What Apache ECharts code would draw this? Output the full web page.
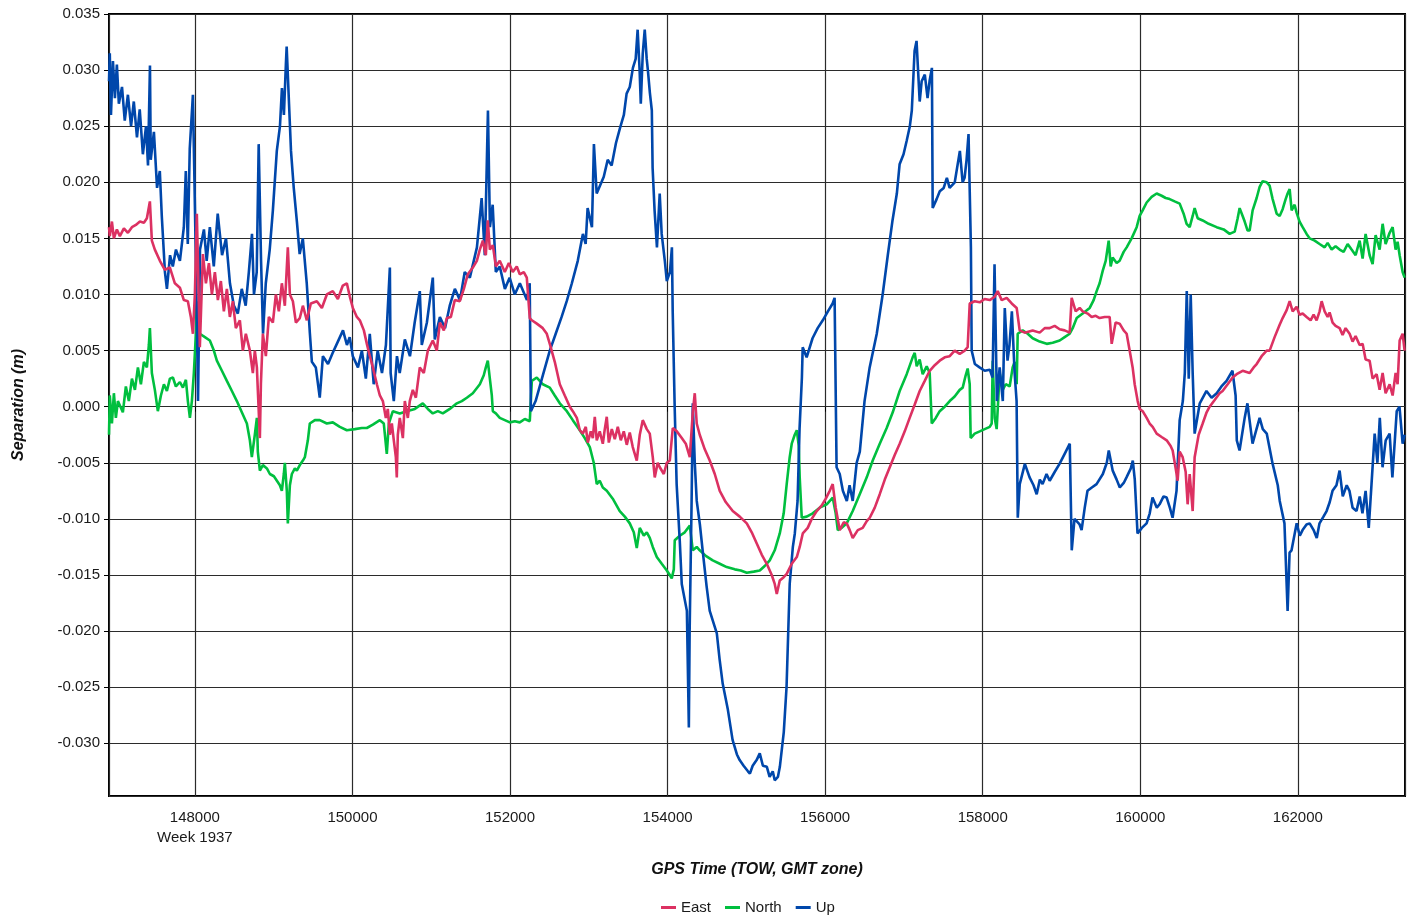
<!DOCTYPE html>
<html>
<head>
<meta charset="utf-8">
<title>Separation</title>
<script src="https://cdn.jsdelivr.net/npm/echarts@6/dist/echarts.min.js"></script>
<style>
  html, body { margin: 0; padding: 0; background: #fff; }
  #chart { width: 1412px; height: 919px; }
</style>
</head>
<body>
<div id="chart"></div>
<script>
// series names (legend order)
var seriesNames = ['East', 'North', 'Up'];

// Up component, [GPS time (s), separation (m)]
var upData = [
[146910,0.0290],[146920,0.0315],[146935,0.0260],[146960,0.0308],[146985,0.0275],[147010,0.0305],[147035,0.0270],[147075,0.0285],[147110,0.0255],[147150,0.0278],[147190,0.0250],[147225,0.0272],[147265,0.0240],[147300,0.0265],[147340,0.0225],[147380,0.0250],[147405,0.0215],[147430,0.0304],[147440,0.0220],[147480,0.0245],[147520,0.0195],[147555,0.0210],[147580,0.0170],[147620,0.0120],[147645,0.0105],[147685,0.0135],[147720,0.0125],[147760,0.0140],[147810,0.0130],[147860,0.0160],[147885,0.0210],[147910,0.0145],[147935,0.0230],[147975,0.0278],[148000,0.0180],[148025,0.0080],[148040,0.0005],[148065,0.0140],[148115,0.0158],[148150,0.0130],[148190,0.0160],[148240,0.0125],[148290,0.0172],[148345,0.0135],[148395,0.0150],[148445,0.0110],[148495,0.0090],[148545,0.0083],[148595,0.0105],[148645,0.0090],[148685,0.0120],[148725,0.0154],[148750,0.0100],[148785,0.0120],[148810,0.0234],[148840,0.0130],[148865,0.0065],[148900,0.0110],[148950,0.0140],[148990,0.0175],[149040,0.0228],[149080,0.0250],[149105,0.0284],[149130,0.0260],[149155,0.0305],[149165,0.0321],[149195,0.0270],[149220,0.0228],[149255,0.0195],[149295,0.0165],[149330,0.0136],[149370,0.0150],[149420,0.0110],[149460,0.0065],[149485,0.0040],[149535,0.0035],[149585,0.0008],[149625,0.0045],[149690,0.0038],[149750,0.0048],[149815,0.0058],[149880,0.0068],[149930,0.0055],[149965,0.0062],[150005,0.0045],[150070,0.0035],[150120,0.0050],[150170,0.0025],[150220,0.0065],[150270,0.0020],[150320,0.0050],[150375,0.0030],[150425,0.0055],[150475,0.0124],[150485,0.0030],[150525,0.0005],[150565,0.0045],[150600,0.0030],[150665,0.0060],[150730,0.0045],[150790,0.0075],[150855,0.0103],[150880,0.0055],[150945,0.0075],[151020,0.0115],[151045,0.0060],[151110,0.0080],[151175,0.0070],[151235,0.0090],[151300,0.0105],[151365,0.0095],[151425,0.0120],[151490,0.0115],[151580,0.0142],[151640,0.0186],[151680,0.0135],[151720,0.0264],[151745,0.0160],[151780,0.0180],[151820,0.0120],[151870,0.0125],[151935,0.0105],[151995,0.0115],[152060,0.0100],[152125,0.0110],[152215,0.0095],[152250,0.0110],[152265,-0.0004],[152325,0.0005],[152405,0.0025],[152505,0.0050],[152580,0.0065],[152655,0.0080],[152720,0.0094],[152785,0.0110],[152860,0.0130],[152925,0.0154],[152960,0.0145],[152985,0.0177],[153040,0.0160],[153065,0.0234],[153100,0.0190],[153190,0.0205],[153240,0.0220],[153290,0.0215],[153345,0.0235],[153395,0.0248],[153445,0.0260],[153480,0.0279],[153520,0.0285],[153560,0.0302],[153595,0.0310],[153620,0.0336],[153645,0.0300],[153660,0.0270],[153685,0.0315],[153710,0.0336],[153735,0.0310],[153750,0.0300],[153775,0.0280],[153800,0.0264],[153810,0.0213],[153835,0.0175],[153865,0.0142],[153900,0.0190],[153925,0.0154],[153965,0.0130],[153990,0.0112],[154030,0.0120],[154055,0.0142],[154065,0.0085],[154090,0.0000],[154115,-0.0069],[154155,-0.0120],[154180,-0.0158],[154245,-0.0182],[154270,-0.0286],[154280,-0.0200],[154305,-0.0084],[154320,0.0003],[154345,-0.0050],[154370,-0.0084],[154410,-0.0105],[154445,-0.0128],[154495,-0.0160],[154535,-0.0182],[154625,-0.0202],[154660,-0.0225],[154700,-0.0247],[154765,-0.0270],[154825,-0.0297],[154880,-0.0310],[154915,-0.0315],[154965,-0.0320],[155020,-0.0325],[155045,-0.0327],[155080,-0.0320],[155130,-0.0315],[155170,-0.0309],[155210,-0.0320],[155260,-0.0321],[155295,-0.0330],[155335,-0.0325],[155360,-0.0333],[155400,-0.0330],[155425,-0.0321],[155475,-0.0290],[155510,-0.0250],[155550,-0.0158],[155590,-0.0125],[155615,-0.0113],[155650,-0.0084],[155675,-0.0020],[155705,0.0026],[155715,0.0053],[155765,0.0044],[155840,0.0061],[155905,0.0070],[155970,0.0077],[156035,0.0085],[156095,0.0092],[156120,0.0097],[156145,-0.0054],[156185,-0.0060],[156225,-0.0075],[156275,-0.0084],[156310,-0.0070],[156350,-0.0084],[156400,-0.0050],[156440,-0.0040],[156500,0.0005],[156565,0.0035],[156655,0.0065],[156730,0.0100],[156795,0.0135],[156855,0.0166],[156910,0.0190],[156945,0.0216],[156995,0.0225],[157035,0.0237],[157075,0.0250],[157100,0.0264],[157135,0.0317],[157160,0.0326],[157200,0.0272],[157225,0.0290],[157265,0.0296],[157300,0.0275],[157325,0.0290],[157355,0.0302],[157365,0.0177],[157415,0.0185],[157455,0.0192],[157505,0.0195],[157545,0.0204],[157580,0.0195],[157645,0.0200],[157710,0.0228],[157745,0.0200],[157770,0.0204],[157795,0.0220],[157820,0.0243],[157850,0.0142],[157860,0.0050],[157900,0.0038],[157960,0.0035],[158025,0.0032],[158090,0.0033],[158125,0.0026],[158150,0.0127],[158180,0.0005],[158215,0.0035],[158255,0.0005],[158280,0.0088],[158315,0.0041],[158340,0.0055],[158370,0.0085],[158405,0.0030],[158430,0.0005],[158445,-0.0099],[158470,-0.0069],[158535,-0.0051],[158595,-0.0063],[158645,-0.0070],[158685,-0.0078],[158725,-0.0065],[158760,-0.0069],[158810,-0.0060],[158850,-0.0066],[158915,-0.0058],[158975,-0.0051],[159040,-0.0042],[159105,-0.0033],[159130,-0.0128],[159165,-0.0100],[159190,-0.0099],[159230,-0.0105],[159255,-0.0110],[159295,-0.0090],[159330,-0.0075],[159385,-0.0072],[159445,-0.0069],[159525,-0.0060],[159575,-0.0050],[159600,-0.0039],[159650,-0.0057],[159700,-0.0065],[159740,-0.0072],[159790,-0.0068],[159825,-0.0063],[159880,-0.0055],[159905,-0.0048],[159930,-0.0065],[159965,-0.0113],[160020,-0.0108],[160080,-0.0104],[160120,-0.0095],[160155,-0.0081],[160210,-0.0090],[160245,-0.0087],[160295,-0.0080],[160335,-0.0081],[160375,-0.0090],[160410,-0.0099],[160460,-0.0075],[160500,-0.0012],[160540,0.0005],[160565,0.0030],[160590,0.0103],[160615,0.0025],[160640,0.0100],[160665,0.0030],[160690,-0.0024],[160755,0.0003],[160840,0.0014],[160905,0.0008],[160970,0.0012],[161030,0.0018],[161095,0.0023],[161170,0.0032],[161210,0.0010],[161225,-0.0030],[161260,-0.0039],[161325,-0.0010],[161360,0.0003],[161425,-0.0033],[161475,-0.0020],[161515,-0.0010],[161555,-0.0020],[161605,-0.0024],[161680,-0.0051],[161745,-0.0070],[161770,-0.0084],[161830,-0.0104],[161870,-0.0182],[161895,-0.0130],[161920,-0.0128],[161985,-0.0104],[162025,-0.0115],[162060,-0.0110],[162110,-0.0105],[162150,-0.0104],[162200,-0.0110],[162240,-0.0117],[162275,-0.0104],[162325,-0.0098],[162365,-0.0093],[162405,-0.0085],[162440,-0.0075],[162490,-0.0070],[162530,-0.0057],[162570,-0.0080],[162620,-0.0070],[162655,-0.0075],[162695,-0.0090],[162745,-0.0093],[162785,-0.0080],[162820,-0.0095],[162860,-0.0075],[162900,-0.0108],[162935,-0.0069],[162975,-0.0024],[163010,-0.0050],[163040,-0.0010],[163075,-0.0054],[163115,-0.0030],[163165,-0.0024],[163200,-0.0063],[163255,-0.0004],[163290,0.0000],[163330,-0.0033],[163355,-0.0025]
];

// East component
var eastData = [
[146910,0.0160],[146920,0.0152],[146947,0.0165],[146972,0.0150],[147010,0.0158],[147048,0.0152],[147099,0.0159],[147150,0.0155],[147201,0.0160],[147251,0.0162],[147302,0.0165],[147353,0.0164],[147391,0.0168],[147429,0.0183],[147454,0.0148],[147492,0.0140],[147556,0.0130],[147619,0.0122],[147683,0.0124],[147746,0.0110],[147810,0.0106],[147860,0.0095],[147911,0.0094],[147949,0.0080],[147975,0.0065],[148000,0.0100],[148025,0.0172],[148051,0.0090],[148063,0.0053],[148102,0.0136],[148140,0.0110],[148178,0.0128],[148216,0.0100],[148254,0.0120],[148292,0.0095],[148330,0.0112],[148368,0.0085],[148406,0.0105],[148444,0.0080],[148482,0.0094],[148520,0.0070],[148571,0.0077],[148609,0.0050],[148647,0.0065],[148698,0.0050],[148736,0.0030],[148761,0.0050],[148787,0.0035],[148799,0.0015],[148825,-0.0028],[148838,0.0020],[148863,0.0065],[148901,0.0045],[148939,0.0080],[148990,0.0075],[149028,0.0100],[149066,0.0085],[149104,0.0110],[149142,0.0090],[149180,0.0142],[149206,0.0100],[149244,0.0094],[149282,0.0075],[149332,0.0079],[149371,0.0090],[149421,0.0077],[149472,0.0092],[149548,0.0094],[149612,0.0088],[149675,0.0100],[149751,0.0103],[149815,0.0096],[149878,0.0108],[149929,0.0110],[149967,0.0098],[150005,0.0088],[150056,0.0080],[150094,0.0077],[150145,0.0068],[150183,0.0056],[150221,0.0045],[150259,0.0035],[150310,0.0020],[150348,0.0010],[150386,0.0005],[150424,-0.0010],[150449,-0.0002],[150475,-0.0025],[150500,-0.0015],[150525,-0.0030],[150551,-0.0045],[150563,-0.0063],[150576,-0.0025],[150601,-0.0010],[150640,-0.0028],[150665,0.0005],[150703,-0.0010],[150728,0.0005],[150766,0.0015],[150805,0.0008],[150855,0.0035],[150906,0.0030],[150957,0.0050],[151020,0.0059],[151071,0.0050],[151109,0.0075],[151160,0.0068],[151198,0.0079],[151249,0.0080],[151299,0.0095],[151363,0.0094],[151414,0.0105],[151464,0.0118],[151528,0.0124],[151579,0.0130],[151617,0.0140],[151655,0.0148],[151693,0.0135],[151718,0.0166],[151744,0.0140],[151782,0.0144],[151820,0.0125],[151870,0.0130],[151934,0.0120],[151985,0.0128],[152035,0.0120],[152086,0.0125],[152124,0.0118],[152175,0.0120],[152213,0.0115],[152251,0.0079],[152277,0.0077],[152340,0.0074],[152416,0.0070],[152467,0.0065],[152505,0.0056],[152568,0.0040],[152632,0.0020],[152695,0.0010],[152759,0.0000],[152797,-0.0004],[152848,-0.0010],[152886,-0.0021],[152924,-0.0024],[152962,-0.0018],[152987,-0.0032],[153025,-0.0022],[153051,-0.0028],[153076,-0.0009],[153101,-0.0030],[153139,-0.0022],[153178,-0.0033],[153203,-0.0020],[153228,-0.0009],[153254,-0.0032],[153292,-0.0020],[153330,-0.0029],[153368,-0.0018],[153406,-0.0030],[153444,-0.0022],[153482,-0.0034],[153520,-0.0023],[153558,-0.0036],[153609,-0.0048],[153647,-0.0025],[153685,-0.0012],[153736,-0.0020],[153774,-0.0024],[153812,-0.0045],[153837,-0.0063],[153875,-0.0050],[153901,-0.0054],[153952,-0.0060],[153990,-0.0050],[154028,-0.0048],[154066,-0.0019],[154117,-0.0022],[154180,-0.0028],[154231,-0.0033],[154282,-0.0045],[154320,-0.0005],[154345,0.0012],[154370,-0.0015],[154408,-0.0025],[154472,-0.0038],[154535,-0.0048],[154599,-0.0060],[154662,-0.0075],[154738,-0.0085],[154827,-0.0093],[154916,-0.0098],[155005,-0.0104],[155068,-0.0112],[155132,-0.0122],[155196,-0.0132],[155259,-0.0140],[155322,-0.0150],[155360,-0.0158],[155386,-0.0167],[155424,-0.0155],[155474,-0.0152],[155512,-0.0149],[155576,-0.0140],[155640,-0.0134],[155677,-0.0125],[155716,-0.0113],[155779,-0.0108],[155830,-0.0100],[155893,-0.0093],[155957,-0.0088],[156008,-0.0082],[156058,-0.0075],[156096,-0.0069],[156134,-0.0090],[156185,-0.0110],[156236,-0.0103],[156274,-0.0104],[156312,-0.0110],[156350,-0.0117],[156414,-0.0110],[156477,-0.0108],[156528,-0.0102],[156566,-0.0099],[156630,-0.0090],[156693,-0.0078],[156757,-0.0065],[156820,-0.0054],[156883,-0.0043],[156946,-0.0033],[157010,-0.0022],[157073,-0.0010],[157137,0.0002],[157200,0.0014],[157264,0.0023],[157327,0.0032],[157391,0.0037],[157454,0.0041],[157518,0.0044],[157581,0.0045],[157644,0.0050],[157708,0.0047],[157771,0.0050],[157809,0.0053],[157835,0.0092],[157898,0.0094],[157962,0.0093],[158025,0.0096],[158089,0.0095],[158152,0.0098],[158190,0.0103],[158241,0.0095],[158304,0.0097],[158368,0.0092],[158431,0.0088],[158469,0.0068],[158533,0.0066],[158634,0.0068],[158723,0.0066],[158787,0.0070],[158850,0.0070],[158913,0.0072],[158977,0.0069],[159040,0.0068],[159104,0.0066],[159129,0.0097],[159180,0.0085],[159231,0.0088],[159269,0.0085],[159332,0.0083],[159383,0.0080],[159434,0.0081],[159484,0.0079],[159548,0.0080],[159611,0.0080],[159637,0.0056],[159687,0.0075],[159738,0.0074],[159789,0.0068],[159827,0.0065],[159865,0.0050],[159903,0.0035],[159929,0.0020],[159967,0.0005],[159992,-0.0002],[160030,-0.0004],[160081,-0.0010],[160119,-0.0015],[160157,-0.0018],[160208,-0.0024],[160271,-0.0027],[160335,-0.0030],[160385,-0.0035],[160411,-0.0039],[160449,-0.0055],[160474,-0.0066],[160500,-0.0040],[160538,-0.0045],[160576,-0.0058],[160601,-0.0087],[160627,-0.0060],[160665,-0.0093],[160690,-0.0045],[160741,-0.0025],[160792,-0.0015],[160842,-0.0005],[160880,0.0000],[160944,0.0006],[161007,0.0012],[161045,0.0014],[161109,0.0020],[161172,0.0026],[161223,0.0029],[161299,0.0032],[161388,0.0030],[161439,0.0035],[161477,0.0038],[161540,0.0045],[161604,0.0050],[161642,0.0050],[161705,0.0062],[161769,0.0073],[161807,0.0079],[161858,0.0086],[161896,0.0094],[161934,0.0085],[161984,0.0089],[162022,0.0082],[162061,0.0083],[162111,0.0080],[162162,0.0077],[162200,0.0082],[162238,0.0077],[162276,0.0085],[162302,0.0094],[162340,0.0085],[162378,0.0080],[162403,0.0084],[162441,0.0075],[162479,0.0072],[162530,0.0070],[162568,0.0064],[162606,0.0070],[162657,0.0065],[162695,0.0058],[162733,0.0063],[162784,0.0055],[162822,0.0056],[162860,0.0042],[162911,0.0041],[162949,0.0025],[163000,0.0029],[163038,0.0015],[163076,0.0030],[163114,0.0012],[163165,0.0020],[163203,0.0010],[163241,0.0030],[163266,0.0020],[163292,0.0059],[163330,0.0065],[163355,0.0050]
];

// North component
var northData = [
[146910,-0.0025],[146920,0.0010],[146947,-0.0015],[146972,0.0012],[146997,-0.0010],[147023,0.0005],[147048,0.0005],[147086,-0.0005],[147124,0.0018],[147162,0.0005],[147201,0.0025],[147239,0.0015],[147277,0.0035],[147315,0.0020],[147353,0.0040],[147391,0.0035],[147416,0.0055],[147429,0.0070],[147454,0.0030],[147492,0.0015],[147530,-0.0004],[147569,0.0010],[147607,0.0020],[147645,0.0014],[147683,0.0025],[147721,0.0026],[147759,0.0018],[147810,0.0022],[147848,0.0017],[147886,0.0024],[147911,0.0005],[147937,-0.0010],[147962,0.0005],[147987,0.0030],[148013,0.0065],[148025,0.0094],[148051,0.0060],[148063,0.0065],[148127,0.0062],[148190,0.0059],[148241,0.0050],[148279,0.0041],[148343,0.0032],[148406,0.0023],[148470,0.0014],[148533,0.0005],[148596,-0.0005],[148660,-0.0015],[148698,-0.0030],[148723,-0.0045],[148761,-0.0025],[148787,-0.0010],[148799,-0.0040],[148825,-0.0057],[148863,-0.0052],[148914,-0.0055],[148952,-0.0060],[149003,-0.0062],[149041,-0.0066],[149079,-0.0070],[149104,-0.0075],[149129,-0.0060],[149142,-0.0050],[149167,-0.0075],[149180,-0.0104],[149206,-0.0070],[149231,-0.0060],[149269,-0.0055],[149294,-0.0057],[149332,-0.0052],[149371,-0.0048],[149396,-0.0045],[149434,-0.0030],[149459,-0.0015],[149523,-0.0012],[149586,-0.0012],[149675,-0.0015],[149751,-0.0014],[149840,-0.0018],[149929,-0.0021],[150030,-0.0020],[150119,-0.0019],[150183,-0.0019],[150259,-0.0016],[150348,-0.0012],[150398,-0.0015],[150436,-0.0042],[150462,-0.0015],[150513,-0.0004],[150601,-0.0006],[150690,-0.0004],[150792,-0.0002],[150893,0.0003],[150957,-0.0002],[151020,-0.0006],[151084,-0.0004],[151147,-0.0006],[151236,-0.0002],[151325,0.0003],[151388,0.0005],[151452,0.0008],[151528,0.0012],[151617,0.0020],[151667,0.0028],[151693,0.0035],[151718,0.0041],[151744,0.0025],[151769,0.0010],[151782,-0.0004],[151820,-0.0006],[151870,-0.0010],[151934,-0.0012],[151997,-0.0014],[152061,-0.0013],[152124,-0.0014],[152188,-0.0011],[152251,-0.0013],[152277,0.0023],[152340,0.0026],[152416,0.0020],[152505,0.0017],[152568,0.0010],[152632,0.0003],[152721,-0.0004],[152797,-0.0012],[152886,-0.0021],[152949,-0.0028],[153013,-0.0036],[153063,-0.0050],[153101,-0.0069],[153139,-0.0066],[153178,-0.0072],[153228,-0.0075],[153304,-0.0082],[153393,-0.0093],[153457,-0.0098],[153520,-0.0104],[153571,-0.0112],[153609,-0.0126],[153647,-0.0108],[153698,-0.0115],[153736,-0.0112],[153774,-0.0117],[153812,-0.0125],[153863,-0.0134],[153926,-0.0140],[153990,-0.0146],[154028,-0.0150],[154053,-0.0153],[154079,-0.0145],[154091,-0.0119],[154155,-0.0115],[154218,-0.0112],[154282,-0.0106],[154320,-0.0128],[154370,-0.0125],[154408,-0.0128],[154485,-0.0133],[154573,-0.0137],[154662,-0.0140],[154751,-0.0143],[154853,-0.0145],[154929,-0.0146],[155005,-0.0148],[155094,-0.0147],[155170,-0.0146],[155233,-0.0142],[155297,-0.0137],[155360,-0.0128],[155424,-0.0113],[155474,-0.0095],[155512,-0.0069],[155550,-0.0045],[155576,-0.0033],[155614,-0.0025],[155640,-0.0021],[155665,-0.0035],[155677,-0.0063],[155703,-0.0099],[155766,-0.0098],[155842,-0.0095],[155931,-0.0090],[156020,-0.0087],[156096,-0.0081],[156134,-0.0095],[156160,-0.0110],[156210,-0.0108],[156274,-0.0104],[156350,-0.0093],[156439,-0.0078],[156528,-0.0063],[156604,-0.0048],[156693,-0.0033],[156781,-0.0019],[156858,-0.0005],[156946,0.0014],[157035,0.0029],[157111,0.0044],[157137,0.0048],[157162,0.0036],[157200,0.0042],[157238,0.0029],[157289,0.0036],[157327,0.0030],[157353,-0.0015],[157404,-0.0010],[157454,-0.0004],[157518,0.0000],[157581,0.0005],[157644,0.0009],[157708,0.0015],[157746,0.0017],[157784,0.0028],[157809,0.0034],[157835,0.0020],[157847,-0.0028],[157898,-0.0024],[157962,-0.0022],[158025,-0.0020],[158089,-0.0018],[158114,-0.0015],[158127,0.0041],[158152,-0.0010],[158177,-0.0020],[158215,0.0030],[158254,0.0015],[158292,0.0020],[158342,0.0018],[158380,0.0035],[158406,0.0040],[158431,0.0020],[158444,0.0065],[158507,0.0068],[158571,0.0065],[158634,0.0061],[158723,0.0058],[158812,0.0056],[158888,0.0057],[158977,0.0059],[159040,0.0062],[159104,0.0065],[159142,0.0070],[159193,0.0079],[159269,0.0083],[159358,0.0088],[159408,0.0095],[159446,0.0103],[159484,0.0110],[159523,0.0121],[159561,0.0130],[159599,0.0148],[159624,0.0125],[159649,0.0133],[159700,0.0128],[159738,0.0130],[159789,0.0138],[159827,0.0142],[159890,0.0150],[159954,0.0160],[159992,0.0170],[160030,0.0175],[160081,0.0182],[160144,0.0187],[160208,0.0190],[160271,0.0188],[160322,0.0186],[160373,0.0185],[160436,0.0183],[160500,0.0181],[160550,0.0172],[160588,0.0163],[160627,0.0160],[160665,0.0170],[160690,0.0177],[160728,0.0168],[160792,0.0166],[160868,0.0163],[160969,0.0160],[161058,0.0158],[161134,0.0154],[161198,0.0156],[161236,0.0168],[161261,0.0177],[161299,0.0170],[161325,0.0165],[161362,0.0157],[161388,0.0157],[161426,0.0175],[161477,0.0186],[161515,0.0196],[161553,0.0201],[161604,0.0200],[161642,0.0197],[161680,0.0185],[161731,0.0172],[161769,0.0170],[161807,0.0176],[161845,0.0185],[161870,0.0190],[161896,0.0194],[161921,0.0175],[161959,0.0180],[161984,0.0173],[162022,0.0165],[162061,0.0160],[162111,0.0154],[162150,0.0150],[162213,0.0148],[162276,0.0145],[162340,0.0142],[162378,0.0146],[162429,0.0140],[162479,0.0143],[162530,0.0140],[162581,0.0138],[162632,0.0145],[162682,0.0140],[162733,0.0135],[162784,0.0148],[162822,0.0132],[162860,0.0154],[162911,0.0135],[162949,0.0127],[162987,0.0153],[163038,0.0140],[163076,0.0163],[163114,0.0145],[163165,0.0155],[163203,0.0160],[163241,0.0140],[163266,0.0147],[163292,0.0135],[163330,0.0120],[163355,0.0115]
];

// axis ranges
var timeMin = 146910;
var timeMax = 163360;
var sepMin = -0.0347;
var sepMax = 0.035;

var colors = { East: '#dc3162', North: '#00bf3f', Up: '#0047ab' };
var fontName = 'Arial, "Liberation Sans", sans-serif';

var chart = echarts.init(document.getElementById('chart'), null, { renderer: 'canvas' });

var option = {
    animation: false,
    backgroundColor: '#fff',
    textStyle: { fontFamily: fontName },
    grid: {
        left: 109, right: 7, top: 14, bottom: 123,
        show: true, borderColor: '#000', borderWidth: 2,
        outerBoundsMode: 'none'
    },
    legend: {
        data: seriesNames,
        top: 895,
        left: 656,
        icon: 'rect',
        itemWidth: 15,
        itemHeight: 3,
        itemGap: 14,
        textStyle: { fontSize: 15, color: '#1a1a1a', fontFamily: fontName }
    },
    xAxis: {
        type: 'value',
        min: timeMin,
        max: timeMax,
        minInterval: 2000,
        maxInterval: 2000,
        name: 'GPS Time (TOW, GMT zone)',
        nameLocation: 'middle',
        nameGap: 66,
        nameTextStyle: { fontSize: 16, fontWeight: 'bold', fontStyle: 'italic', color: '#111', fontFamily: fontName },
        axisLine: { show: false },
        axisTick: { show: true, length: 5, lineStyle: { color: '#000' } },
        splitLine: { show: true, lineStyle: { color: '#2b2b2b', width: 1.2 } },
        axisLabel: {
            showMinLabel: false,
            showMaxLabel: false,
            margin: 12,
            fontSize: 15,
            lineHeight: 20,
            color: '#1a1a1a',
            formatter: function (v) {
                if (v === 148000) return '148000\nWeek 1937';
                return String(v);
            }
        }
    },
    yAxis: {
        type: 'value',
        min: sepMin,
        max: sepMax,
        minInterval: 0.005,
        maxInterval: 0.005,
        name: 'Separation (m)',
        nameLocation: 'middle',
        nameGap: 82,
        nameTextStyle: { fontSize: 16, fontWeight: 'bold', fontStyle: 'italic', color: '#111', fontFamily: fontName },
        axisLine: { show: false },
        axisTick: { show: true, length: 5, lineStyle: { color: '#000' } },
        splitLine: { show: true, lineStyle: { color: '#2b2b2b', width: 1.2 } },
        axisLabel: {
            showMinLabel: false,
            margin: 9,
            fontSize: 15,
            color: '#1a1a1a',
            formatter: function (v) {
                if (Math.abs(v) < 1e-9) return '0.000';
                return v.toFixed(3);
            }
        }
    },
    series: [
        { name: 'East', type: 'line', data: eastData, z: 4 },
        { name: 'North', type: 'line', data: northData, z: 2 },
        { name: 'Up', type: 'line', data: upData, z: 3 }
    ].map(function (s) {
        s.showSymbol = false;
        s.symbol = 'none';
        s.sampling = null;
        s.color = colors[s.name];
        s.lineStyle = { width: 2.6, color: colors[s.name] };
        return s;
    })
};

chart.setOption(option);
</script>
</body>
</html>
